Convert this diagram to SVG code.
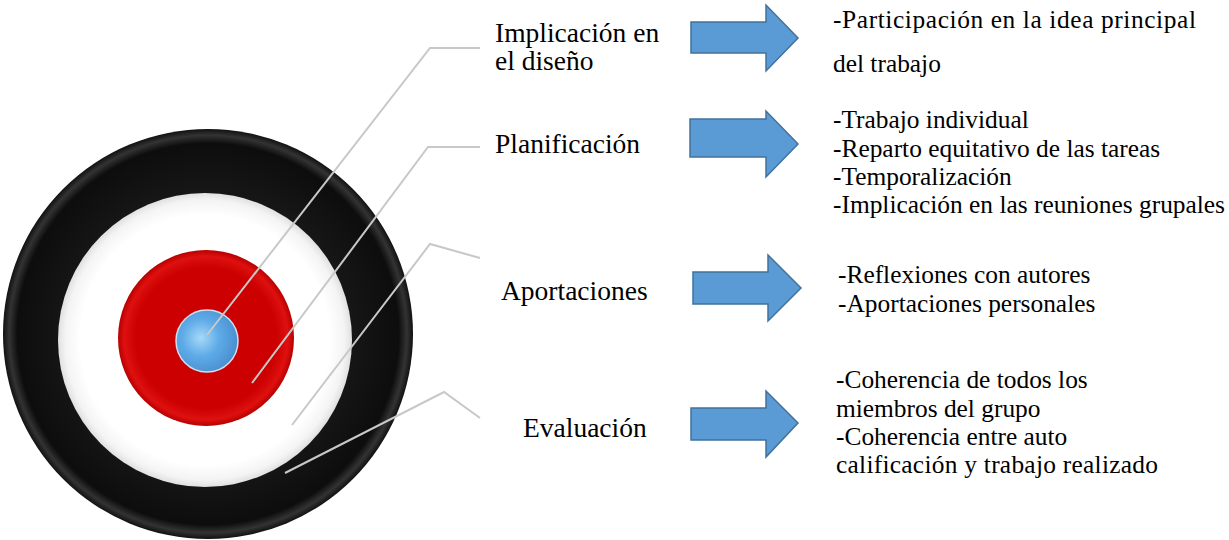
<svg xmlns="http://www.w3.org/2000/svg" width="1229" height="540" viewBox="0 0 1229 540">
<style>
  .lbl { font-size: 27.5px; }
  .desc { font-size: 25.4px; }
  .arrow { fill: #5b9bd5; stroke: #41719c; stroke-width: 1.5; }
  .leader { fill: none; stroke: #c8c8c8; stroke-width: 2; }
</style>
<defs>
  <radialGradient id="gBlack" cx="0.5" cy="0.5" r="0.5">
    <stop offset="0.70" stop-color="#161616"/>
    <stop offset="0.93" stop-color="#0d0d0d"/>
    <stop offset="0.97" stop-color="#333"/>
    <stop offset="1" stop-color="#111"/>
  </radialGradient>
  <radialGradient id="gWhite" cx="0.5" cy="0.5" r="0.5">
    <stop offset="0.85" stop-color="#ffffff"/>
    <stop offset="0.95" stop-color="#f4f4f4"/>
    <stop offset="1" stop-color="#e0e0e0"/>
  </radialGradient>
  <radialGradient id="gRed" cx="0.5" cy="0.5" r="0.5">
    <stop offset="0.8" stop-color="#cc0000"/>
    <stop offset="0.93" stop-color="#de1010"/>
    <stop offset="1" stop-color="#b80000"/>
  </radialGradient>
  <radialGradient id="gBlue" cx="0.4" cy="0.45" r="0.6">
    <stop offset="0" stop-color="#a6d8f7"/>
    <stop offset="0.5" stop-color="#5eabe8"/>
    <stop offset="1" stop-color="#4a8fcf"/>
  </radialGradient>
</defs>

<g id="target">
  <circle cx="208" cy="334" r="205" fill="url(#gBlack)"/>
  <circle cx="205" cy="340" r="147" fill="url(#gWhite)"/>
  <circle cx="206" cy="338" r="88" fill="url(#gRed)"/>
  <circle cx="207" cy="341" r="31" fill="url(#gBlue)" stroke="#d0e0ee" stroke-width="1.5"/>
</g>

<g id="connectors">
  <polyline class="leader" points="480,48 430,48 207,335"/>
  <polyline class="leader" points="480,147 428,147 252,383"/>
  <polyline class="leader" points="480,258 430,244 292,425"/>
  <polyline class="leader" points="480,418 444,392 285,473"/>
  <polygon class="arrow" points="691,22 766,22 766,5 798,38 766,71 766,53 691,53"/>
  <polygon class="arrow" points="690,119 766,119 766,111 798,144 766,177 766,157 690,157"/>
  <polygon class="arrow" points="693,272 768,272 768,255 801,288 768,321 768,304 693,304"/>
  <polygon class="arrow" points="691,408 766,408 766,391 798,423 766,457 766,440 691,440"/>
</g>

<g font-family="'Liberation Serif', 'DejaVu Serif', serif" fill="#000">
<g id="node-implicacion">
  <text class="lbl" x="495" y="42">Implicación en</text>
  <text class="lbl" x="495" y="70">el diseño</text>
  <text class="desc" x="833" y="28" textLength="363" lengthAdjust="spacing">-Participación en la idea principal</text>
  <text class="desc" x="833" y="72">del trabajo</text>
</g>

<g id="node-planificacion">
  <text class="lbl" x="495" y="153">Planificación</text>
  <text class="desc" x="833" y="128">-Trabajo individual</text>
  <text class="desc" x="833" y="157">-Reparto equitativo de las tareas</text>
  <text class="desc" x="833" y="185">-Temporalización</text>
  <text class="desc" x="833" y="213">-Implicación en las reuniones grupales</text>
</g>

<g id="node-aportaciones">
  <text class="lbl" x="501" y="300">Aportaciones</text>
  <text class="desc" x="838" y="283">-Reflexiones con autores</text>
  <text class="desc" x="838" y="312">-Aportaciones personales</text>
</g>

<g id="node-evaluacion">
  <text class="lbl" x="523" y="437">Evaluación</text>
  <text class="desc" x="836" y="388">-Coherencia de todos los</text>
  <text class="desc" x="836" y="417">miembros del grupo</text>
  <text class="desc" x="836" y="445">-Coherencia entre auto</text>
  <text class="desc" x="836" y="473" textLength="322" lengthAdjust="spacing">calificación y trabajo realizado</text>
</g>
</g>
</svg>
